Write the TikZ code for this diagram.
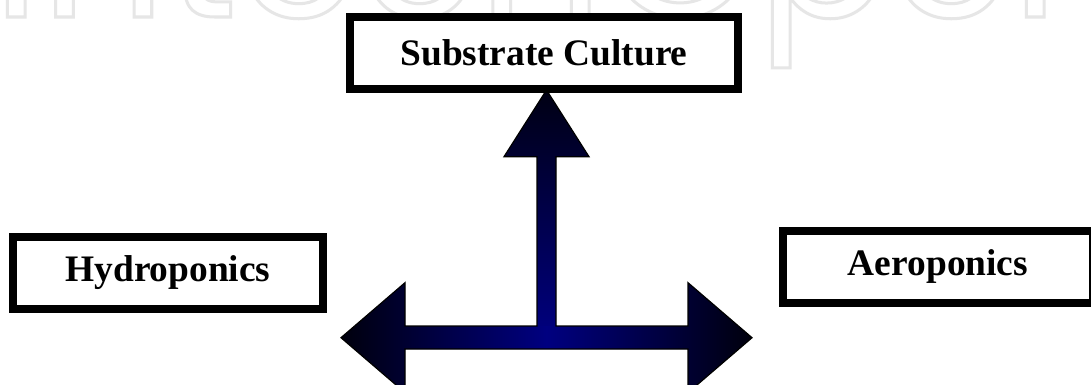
\documentclass[tikz,border=0pt]{standalone}
\usepackage{fontspec}
\setmainfont{Liberation Serif}
\newfontfamily\wmfont{Poppins}
\definecolor{navy}{RGB}{0,0,128}
\definecolor{wmgray}{RGB}{230,230,230}
\begin{document}
\begin{tikzpicture}[x=1pt,y=-1pt,
  box/.style={draw=black, fill=white, line width=8.3pt, inner sep=0pt,
    font=\bfseries\fontsize{37.4}{40}\selectfont},
  wm/.style={font=\wmfont\fontsize{196}{196}\selectfont, anchor=base west, inner sep=0pt, text=wmgray},
  arrowline/.style={draw=black, line width=1.2pt, line join=miter},
]
\clip (0,0) rectangle (1091,385);
\fill[white] (0,0) rectangle (1091,385);
% watermark (outlined text)
\node[wm] (wmark) at (-8,17)
  {\special{pdf:literal direct 1 Tr 3 w}IntechOpen\special{pdf:literal direct 0 Tr 1 w}};
% arrow coordinates
\coordinate (tip) at (546.5,90);
\coordinate (hr) at (589,156.7);
\coordinate (hl) at (504,156.7);
\coordinate (sr) at (556,156.7);
\coordinate (sl) at (537,156.7);
\coordinate (jr) at (556,326);
\coordinate (jl) at (537,326);
\coordinate (ltip) at (341,337.7);
\coordinate (rtip) at (752,337.7);
% vertical part
\shade[top color=navy!15!black, bottom color=navy]
  (tip) -- (hr) -- (sr) -- (556,338) -- (537,338) -- (sl) -- (hl) -- cycle;
% horizontal part
\shade[left color=navy!10!black, right color=navy!10!black, middle color=navy]
  (ltip) -- (405,282.7) -- (405,326) -- (688,326) -- (688,282.7) -- (rtip)
  -- (688,392.7) -- (688,349) -- (405,349) -- (405,392.7) -- cycle;
% outline
\path[arrowline]
  (tip) -- (hr) -- (sr) -- (jr) -- (688,326) -- (688,282.7) -- (rtip)
  -- (688,392.7) -- (688,349) -- (405,349) -- (405,392.7) -- (ltip)
  -- (405,282.7) -- (405,326) -- (jl) -- (sl) -- (hl) -- cycle;
% boxes
\node[box, minimum width=388pt, minimum height=72pt] (sub) at (544,53) {Substrate Culture};
\node[box, minimum width=310pt, minimum height=72.5pt] (hyd) at (168,273) {Hydroponics};
\node[box, minimum width=310pt, minimum height=72pt] (aer) at (938,267) {Aeroponics};
\end{tikzpicture}
\end{document}
